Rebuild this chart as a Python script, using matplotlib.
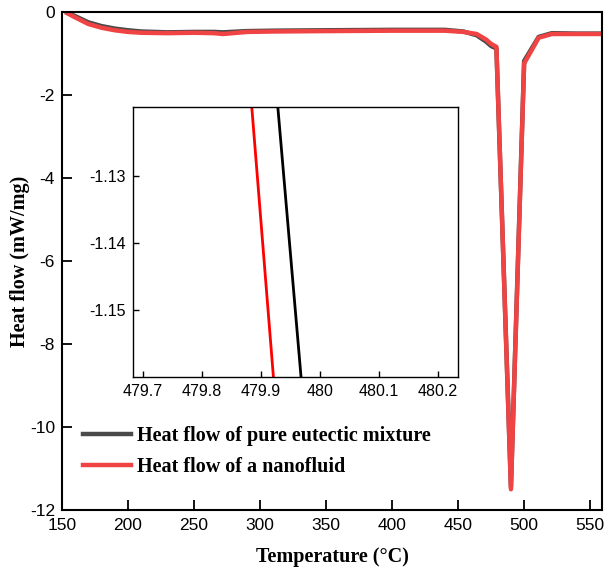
import numpy as np
import matplotlib.pyplot as plt

plt.rcParams['font.family'] = 'Liberation Sans'
plt.rcParams['axes.unicode_minus'] = False

# DSC curves (main plot)
temp = [154, 160, 170, 180, 190, 200, 210, 230, 250, 265, 272, 290, 310, 350, 400, 440,
        454, 464, 471, 475, 479, 490, 500, 511, 521, 540, 560]
hf_pure = [-0.02, -0.10, -0.25, -0.34, -0.40, -0.44, -0.47, -0.49, -0.48, -0.48, -0.49, -0.46,
           -0.45, -0.44, -0.43, -0.43, -0.47, -0.56, -0.71, -0.82, -0.88, -11.45, -1.18, -0.60,
           -0.51, -0.52, -0.52]
hf_nano = [-0.03, -0.13, -0.29, -0.38, -0.44, -0.48, -0.50, -0.51, -0.50, -0.51, -0.53, -0.48,
           -0.47, -0.46, -0.45, -0.45, -0.48, -0.53, -0.66, -0.77, -0.84, -11.50, -1.24, -0.62,
           -0.53, -0.53, -0.53]

# zoomed segment (inset)
zoom_t_pure = [479.926, 479.970]
zoom_hf_pure = [-1.117, -1.162]
zoom_t_nano = [479.882, 479.923]
zoom_hf_nano = [-1.117, -1.162]

fig = plt.figure(figsize=(6.05, 5.74), dpi=100)
ax = fig.add_axes([0.1025, 0.1115, 0.8926, 0.8676])

ax.plot(temp, hf_pure, color='#4a4a4a', lw=3.2, label='Heat flow of pure eutectic mixture')
ax.plot(temp, hf_nano, color='#f04343', lw=3.2, label='Heat flow of a nanofluid')

ax.set_xlim(150, 559)
ax.set_ylim(-12, 0)
ax.set_xticks(np.arange(150, 551, 50))
ax.set_yticks(np.arange(-12, 1, 2))
ax.tick_params(direction='in', length=7, width=1.3, labelsize=12.5)
ax.tick_params(axis='x', pad=6)
ax.tick_params(axis='y', pad=5)
for s in ax.spines.values():
    s.set_linewidth(1.5)

ax.set_xlabel('Temperature (°C)', family='Liberation Serif', fontweight='bold', fontsize=14.5, labelpad=10)
ax.set_ylabel('Heat flow (mW/mg)', family='Liberation Serif', fontweight='bold', fontsize=14.5, va='center')
ax.yaxis.set_label_coords(-0.078, 0.5)

leg = ax.legend(loc='upper left', bbox_to_anchor=(0.005, 0.205), frameon=False,
                handlelength=2.4, handletextpad=0.3, labelspacing=0.55,
                prop={'family': 'Liberation Serif', 'weight': 'bold', 'size': 14.5})

# inset
axin = fig.add_axes([0.2198, 0.3432, 0.537, 0.4704])
axin.plot(zoom_t_pure, zoom_hf_pure, color='black', lw=2.0)
axin.plot(zoom_t_nano, zoom_hf_nano, color='#ff0000', lw=2.0)
axin.set_xlim(479.683, 480.234)
axin.set_ylim(-1.1600, -1.1197)
axin.set_xticks([479.7, 479.8, 479.9, 480.0, 480.1, 480.2])
axin.set_xticklabels(['479.7', '479.8', '479.9', '480', '480.1', '480.2'])
axin.set_yticks([-1.15, -1.14, -1.13])
axin.tick_params(direction='in', length=4, width=1.0, labelsize=11.5, pad=5)
for s in axin.spines.values():
    s.set_linewidth(1.0)

fig.savefig('out.png', dpi=100)
